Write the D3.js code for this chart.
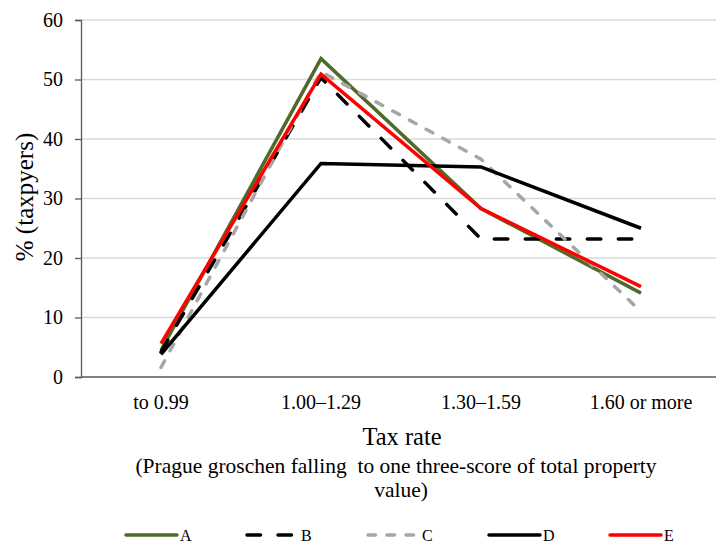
<!DOCTYPE html>
<html>
<head>
<meta charset="utf-8">
<script src="https://cdn.jsdelivr.net/npm/d3@7"></script>
</head>
<body style="margin:0;background:#fff">
<svg id="chart" width="716" height="545" style="display:block"></svg>
<script>
const categories = ["to 0.99", "1.00\u20131.29", "1.30\u20131.59", "1.60 or more"];
const seriesNames = ["A", "B", "C", "D", "E"];
const valuesA = [4.5, 53.5, 28.3, 14.1];
const valuesB = [4.2, 50.3, 23.2, 23.2];
const valuesC = [1.6, 51.3, 36.6, 11.0];
const valuesD = [3.8, 35.9, 35.3, 25.0];
const valuesE = [5.6, 50.9, 28.3, 15.2];
const yTicks = [0, 10, 20, 30, 40, 50, 60];

const FONT = "Liberation Serif";
const styles = {
  A: { color: "#4f6a2a", dash: null },
  B: { color: "#000000", dash: "13.5,17.5" },
  C: { color: "#a6a6a6", dash: "7.5,11.5" },
  D: { color: "#000000", dash: null },
  E: { color: "#ff0000", dash: null }
};
const series = [
  { name: "A", values: valuesA },
  { name: "B", values: valuesB },
  { name: "C", values: valuesC },
  { name: "D", values: valuesD },
  { name: "E", values: valuesE }
];

const svg = d3.select("#chart");
const plotLeft = 81, plotRight = 721, plotTop = 20, plotBottom = 377;

const x = d3.scaleBand().domain(categories).range([plotLeft, plotRight]);
const y = d3.scaleLinear().domain([0, 60]).range([plotBottom, plotTop]);

// gridlines
svg.append("g").selectAll("line").data(yTicks.filter(d => d > 0)).join("line")
  .attr("x1", plotLeft).attr("x2", 716)
  .attr("y1", d => y(d)).attr("y2", d => y(d))
  .attr("stroke", "#d9d9d9").attr("stroke-width", 1.5);

// y axis
const yAxis = svg.append("g").attr("transform", `translate(${plotLeft},0)`)
  .call(d3.axisLeft(y).tickValues(yTicks).tickSize(6).tickPadding(12));
yAxis.attr("font-family", FONT).attr("font-size", 20);
yAxis.select(".domain").attr("stroke", "#595959").attr("stroke-width", 1.3);
yAxis.selectAll(".tick line").attr("stroke", "#595959").attr("stroke-width", 1.3);
yAxis.selectAll(".tick text").attr("font-family", FONT).attr("font-size", 20).attr("fill", "#000");

// x axis
const xAxis = svg.append("g").attr("transform", `translate(0,${plotBottom})`)
  .call(d3.axisBottom(x).tickSize(0).tickPadding(18));
xAxis.attr("font-family", FONT).attr("font-size", 20);
xAxis.select(".domain").attr("stroke", "#595959").attr("stroke-width", 1.3)
  .attr("d", `M${plotLeft},0H716`);
xAxis.selectAll(".tick text").attr("font-family", FONT).attr("font-size", 20).attr("fill", "#000");

// lines
const line = d3.line()
  .x((d, i) => x(categories[i]) + x.bandwidth() / 2)
  .y(d => y(d));

svg.append("g").selectAll("path").data(series).join("path")
  .attr("d", d => line(d.values))
  .attr("fill", "none")
  .attr("stroke", d => styles[d.name].color)
  .attr("stroke-width", 3.5)
  .attr("stroke-dasharray", d => styles[d.name].dash)
  .attr("stroke-linecap", d => styles[d.name].dash ? "round" : "butt")
  .attr("stroke-linejoin", "miter");

// axis titles
svg.append("text").attr("x", 402).attr("y", 445).attr("text-anchor", "middle")
  .attr("font-family", FONT).attr("font-size", 24.5).text("Tax rate");
svg.append("text").attr("x", 396).attr("y", 473).attr("text-anchor", "middle")
  .attr("font-family", FONT).attr("font-size", 21.5).style("white-space", "pre")
  .text("(Prague groschen falling  to one three-score of total property");
svg.append("text").attr("x", 401).attr("y", 497).attr("text-anchor", "middle")
  .attr("font-family", FONT).attr("font-size", 21.5).text("value)");
svg.append("text").attr("transform", "translate(33,197) rotate(-90)")
  .attr("text-anchor", "middle").attr("font-family", FONT).attr("font-size", 25).text("% (taxpyers)");

// legend
const lg = svg.append("g").selectAll("g").data(seriesNames).join("g")
  .attr("transform", (d, i) => `translate(${126 + i * 121},535)`);
lg.append("line").attr("x1", 0).attr("x2", 51).attr("y1", 0).attr("y2", 0)
  .attr("stroke", d => styles[d].color).attr("stroke-width", 3.5)
  .attr("stroke-dasharray", d => styles[d].dash)
  .attr("stroke-linecap", "round");
lg.append("text").attr("x", 54).attr("y", 6).attr("font-family", FONT).attr("font-size", 16).text(d => d);
</script>
</body>
</html>
